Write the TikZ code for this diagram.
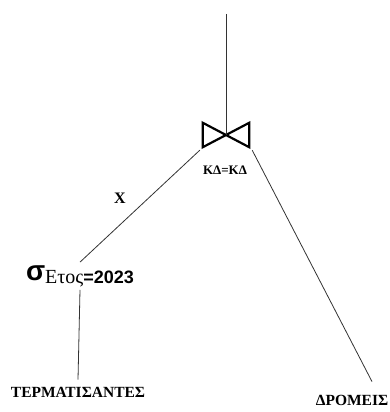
\documentclass[tikz,border=0pt]{standalone}
\usepackage{fontspec}
\setmainfont{Liberation Serif}
\newfontfamily\sansgr{Liberation Sans}
\usepackage{tikz}
\usetikzlibrary{positioning, calc}

\begin{document}
\begin{tikzpicture}[
    x=1pt, y=1pt,
    edge/.style={draw=black!80, line width=0.8pt},
    rel/.style={font=\fontsize{15.5}{17}\selectfont\bfseries, inner sep=0pt},
    lbl/.style={font=\fontsize{13}{15}\selectfont\bfseries, inner sep=0pt},
    joinbox/.style={minimum width=46pt, minimum height=24pt, inner sep=0pt}
]
    \useasboundingbox (0,0) rectangle (390,412);

    %% --- Join operator ---
    \coordinate (top) at (226,398);
    \node[joinbox] (join) at (226,277) {};
    \draw[line width=2.2pt, line join=miter]
        (join.north west) -- (join.south west) -- (join.north east)
        -- (join.south east) -- cycle;
    \node[lbl] (cond) at (225,242) {ΚΔ=ΚΔ};

    %% --- Selection ---
    \node[inner sep=3pt] (sel) at (80,136)
        {{\sansgr\bfseries\fontsize{28}{30}\selectfont σ}\raisebox{-3pt}{\fontsize{20}{22}\selectfont Ετος{\sansgr\bfseries\fontsize{18}{20}\selectfont =2023}}};
    \node[lbl, font=\fontsize{16}{18}\selectfont\bfseries] (x) at (120,214) {Χ};

    %% --- Relations ---
    \node[rel] (term) at (78,20) {ΤΕΡΜΑΤΙΣΑΝΤΕΣ};
    \node[rel] (drom) at (352,12) {ΔΡΟΜΕΙΣ};

    %% --- Edges ---
    \draw[edge] (top) -- (join.center);
    \draw[edge] ($(join.south west)+(-3,-3)$) -- (sel.north);
    \draw[edge] (sel.south) -- ([yshift=7pt]term.north);
    \draw[edge] ($(join.south east)+(3,-3)$) -- ([xshift=20pt,yshift=13pt]drom.north);
\end{tikzpicture}
\end{document}
